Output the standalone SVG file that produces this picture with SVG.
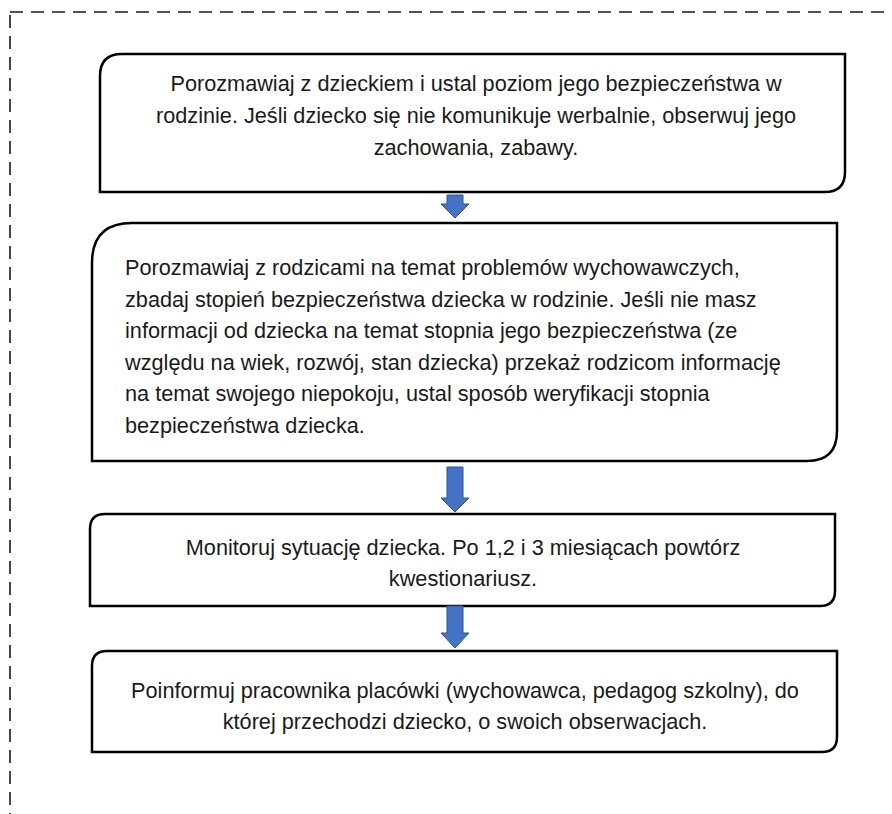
<svg xmlns="http://www.w3.org/2000/svg" width="892" height="814" viewBox="0 0 892 814">
  <style>
    .box { fill: #ffffff; stroke: #000000; stroke-width: 2.5; }
    .t { font-family: "Liberation Sans", Arial, sans-serif; font-size: 21.7px; fill: #1a1a1a; }
    .c { text-anchor: middle; }
    .arrow { fill: #4472C4; stroke: #2F528F; stroke-width: 1; }
    .frame { fill: none; stroke: #1a1a1a; stroke-width: 1.6; stroke-dasharray: 13 8; }
  </style>
  <rect width="892" height="814" fill="#ffffff"/>
  <rect class="frame" x="10" y="12" width="900" height="830"/>

  <g id="node1">
    <path class="box" d="M100,192 L100,76 Q100,54 122,54 L845,54 L845,172 Q845,192 825,192 Z"/>
    <text class="t c" x="476" y="91">Porozmawiaj z dzieckiem i ustal poziom jego bezpieczeństwa w</text>
    <text class="t c" x="476" y="123">rodzinie. Jeśli dziecko się nie komunikuje werbalnie, obserwuj jego</text>
    <text class="t c" x="476" y="155">zachowania, zabawy.</text>
  </g>

  <g id="node2">
    <path class="box" d="M92,461 L92,263 Q92,223 132,223 L837,223 L837,431 Q837,461 807,461 Z"/>
    <text class="t" x="125" y="275">Porozmawiaj z rodzicami na temat problemów wychowawczych,</text>
    <text class="t" x="125" y="307">zbadaj stopień bezpieczeństwa dziecka w rodzinie. Jeśli nie masz</text>
    <text class="t" x="125" y="338">informacji od dziecka na temat stopnia jego bezpieczeństwa (ze</text>
    <text class="t" x="125" y="370">względu na wiek, rozwój, stan dziecka) przekaż rodzicom informację</text>
    <text class="t" x="125" y="401">na temat swojego niepokoju, ustal sposób weryfikacji stopnia</text>
    <text class="t" x="125" y="433">bezpieczeństwa dziecka.</text>
  </g>

  <g id="node3">
    <path class="box" d="M90,606 L90,529 Q90,514 105,514 L835,514 L835,591 Q835,606 820,606 Z"/>
    <text class="t c" x="463" y="555">Monitoruj sytuację dziecka. Po 1,2 i 3 miesiącach powtórz</text>
    <text class="t c" x="463" y="586">kwestionariusz.</text>
  </g>

  <g id="node4">
    <path class="box" d="M92,752 L92,666 Q92,651 107,651 L837,651 L837,737 Q837,752 822,752 Z"/>
    <text class="t c" x="465" y="698">Poinformuj pracownika placówki (wychowawca, pedagog szkolny), do</text>
    <text class="t c" x="465" y="729">której przechodzi dziecko, o swoich obserwacjach.</text>
  </g>

  <g id="connectors">
    <path class="arrow" d="M447,195 L463,195 L463,204 L469,204 L455,218 L441,204 L447,204 Z"/>
    <path class="arrow" d="M447,467 L463,467 L463,498 L469,498 L455,512 L441,498 L447,498 Z"/>
    <path class="arrow" d="M447,606 L463,606 L463,633 L469,633 L455,648 L441,633 L447,633 Z"/>
  </g>
</svg>
